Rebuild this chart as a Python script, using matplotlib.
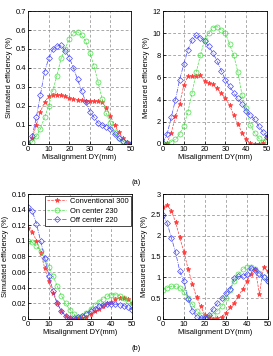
import matplotlib
matplotlib.use("Agg")
import matplotlib.pyplot as plt
import numpy as np

# misalignment positions (mm)
dy = list(range(0, 51, 2))

# (a) simulated efficiency (%)
sim_a_conv = [0.0, 0.03, 0.10, 0.17, 0.22, 0.25, 0.26, 0.26, 0.255, 0.25, 0.24, 0.235, 0.232,
              0.23, 0.228, 0.226, 0.225, 0.225, 0.22, 0.19, 0.145, 0.10, 0.06, 0.03, 0.01, 0.0]
sim_a_on = [0.0, 0.01, 0.04, 0.08, 0.14, 0.20, 0.28, 0.36, 0.45, 0.50, 0.555, 0.585, 0.59,
            0.575, 0.54, 0.48, 0.41, 0.325, 0.235, 0.16, 0.11, 0.06, 0.03, 0.012, 0.005, 0.0]
sim_a_off = [0.0, 0.04, 0.14, 0.26, 0.38, 0.45, 0.50, 0.515, 0.52, 0.49, 0.455, 0.40, 0.34,
             0.28, 0.22, 0.17, 0.14, 0.11, 0.10, 0.09, 0.08, 0.05, 0.03, 0.015, 0.005, 0.0]

# (a) measured efficiency (%)
mea_a_conv = [0.0, 0.1, 1.0, 2.5, 3.6, 5.3, 6.1, 6.1, 6.1, 6.2, 5.7, 5.5, 5.4,
              5.0, 4.6, 4.1, 3.5, 2.6, 1.8, 1.0, 0.4, 0.05, 0.0, 0.0, 0.1, 0.7]
mea_a_on = [0.0, 0.0, 0.2, 0.4, 0.9, 1.6, 2.9, 4.6, 6.5, 8.0, 9.4, 10.0, 10.5,
            10.6, 10.3, 10.0, 9.0, 8.0, 6.5, 4.4, 3.2, 1.7, 1.0, 0.5, 0.2, 0.6]
mea_a_off = [0.1, 0.9, 2.4, 4.0, 5.8, 7.2, 8.5, 9.4, 9.8, 9.6, 9.3, 8.8, 8.2,
             7.5, 6.6, 5.8, 5.2, 4.6, 4.1, 3.6, 3.0, 2.6, 2.2, 1.6, 1.1, 0.6]

# (b) simulated efficiency (%)
sim_b_conv = [0.117, 0.112, 0.100, 0.085, 0.065, 0.048, 0.033, 0.020, 0.010, 0.004, 0.001, 0.0, 0.001,
              0.001, 0.003, 0.006, 0.010, 0.013, 0.017, 0.020, 0.022, 0.025, 0.027, 0.027, 0.025, 0.020]
sim_b_on = [0.100, 0.098, 0.093, 0.087, 0.077, 0.067, 0.055, 0.042, 0.030, 0.020, 0.012, 0.006, 0.003,
            0.004, 0.008, 0.013, 0.018, 0.022, 0.026, 0.029, 0.031, 0.031, 0.030, 0.027, 0.023, 0.018]
sim_b_off = [0.143, 0.138, 0.122, 0.100, 0.078, 0.055, 0.036, 0.020, 0.010, 0.004, 0.001, 0.001, 0.002,
             0.004, 0.007, 0.010, 0.013, 0.016, 0.018, 0.019, 0.019, 0.019, 0.018, 0.017, 0.015, 0.012]

# (b) measured efficiency (%)
mea_b_conv = [2.70, 2.73, 2.60, 2.32, 1.96, 1.60, 1.20, 0.85, 0.52, 0.30, 0.10, 0.05, 0.0,
              0.02, 0.05, 0.15, 0.28, 0.38, 0.55, 0.72, 0.90, 1.08, 1.20, 0.60, 1.25, 1.15]
mea_b_on = [0.70, 0.75, 0.78, 0.78, 0.75, 0.65, 0.50, 0.35, 0.20, 0.10, 0.05, 0.05, 0.10,
            0.20, 0.30, 0.50, 0.70, 0.90, 1.08, 1.20, 1.25, 1.25, 1.20, 1.10, 1.00, 0.90]
mea_b_off = [2.50, 2.30, 1.95, 1.60, 1.15, 0.90, 0.48, 0.20, 0.05, 0.02, 0.03, 0.10, 0.25,
             0.38, 0.50, 0.63, 0.72, 0.98, 1.02, 1.02, 1.08, 1.22, 1.18, 1.08, 1.00, 0.90]

labels = ["Conventional 300", "On center 230", "Off center 220"]
styles = [
    dict(color="#ff3b3b", marker="*", ls="--", ms=3.5, mfc="#ff3b3b"),
    dict(color="#44e044", marker="o", ls="--", ms=3.6, mfc="none"),
    dict(color="#4848ff", marker="D", ls="-.", ms=3.0, mfc="none"),
]

FS = 5.4
plt.rcParams["font.family"] = ["Liberation Sans", "DejaVu Sans"]
fig = plt.figure(figsize=(2.73, 3.56), dpi=100)

panels = [
    ([0.103, 0.596, 0.377, 0.373], (sim_a_conv, sim_a_on, sim_a_off), (0, 0.7), np.arange(0, 0.71, 0.1),
     "Simulated efficiency (%)"),
    ([0.597, 0.596, 0.381, 0.373], (mea_a_conv, mea_a_on, mea_a_off), (0, 12), np.arange(0, 13, 2),
     "Measured efficiency (%)"),
    ([0.103, 0.104, 0.381, 0.351], (sim_b_conv, sim_b_on, sim_b_off), (0, 0.16), np.arange(0, 0.161, 0.02),
     "Simulated efficiency (%)"),
    ([0.597, 0.104, 0.384, 0.351], (mea_b_conv, mea_b_on, mea_b_off), (0, 3), np.arange(0, 3.01, 0.5),
     "Measured efficiency (%)"),
]

for i, (rect, series, ylim, yt, ylab) in enumerate(panels):
    ax = fig.add_axes(rect)
    for s, st, lab in zip(series, styles, labels):
        ax.plot(dy, s, lw=0.5, mew=0.5, label=lab, **st)
    ax.set_xlim(0, 50)
    ax.set_ylim(*ylim)
    ax.set_xticks(range(0, 51, 10))
    ax.set_yticks(yt)
    ax.set_yticklabels([f"{v:g}" for v in np.round(yt, 3)])
    ax.tick_params(direction="in", labelsize=FS, length=2, width=0.5, pad=1.5)
    ax.grid(True, ls=(0, (4, 3)), color="#888888", lw=0.5)
    for sp in ax.spines.values():
        sp.set_linewidth(0.6)
    ax.set_xlabel("Misalignment DY(mm)", fontsize=FS, labelpad=1)
    ax.set_ylabel(ylab, fontsize=FS, labelpad=1.5)
    if i == 2:
        ax.legend(loc="upper right", fontsize=FS, frameon=True, fancybox=False,
                  edgecolor="black", framealpha=1, handlelength=2.5, borderpad=0.3,
                  labelspacing=0.3, handletextpad=0.5, borderaxespad=0.2).get_frame().set_linewidth(0.5)

fig.text(0.5, 1 - 182 / 356, "(a)", ha="center", va="center", fontsize=FS)
fig.text(0.5, 1 - 349 / 356, "(b)", ha="center", va="center", fontsize=FS)

fig.savefig("out.png", dpi=100)
